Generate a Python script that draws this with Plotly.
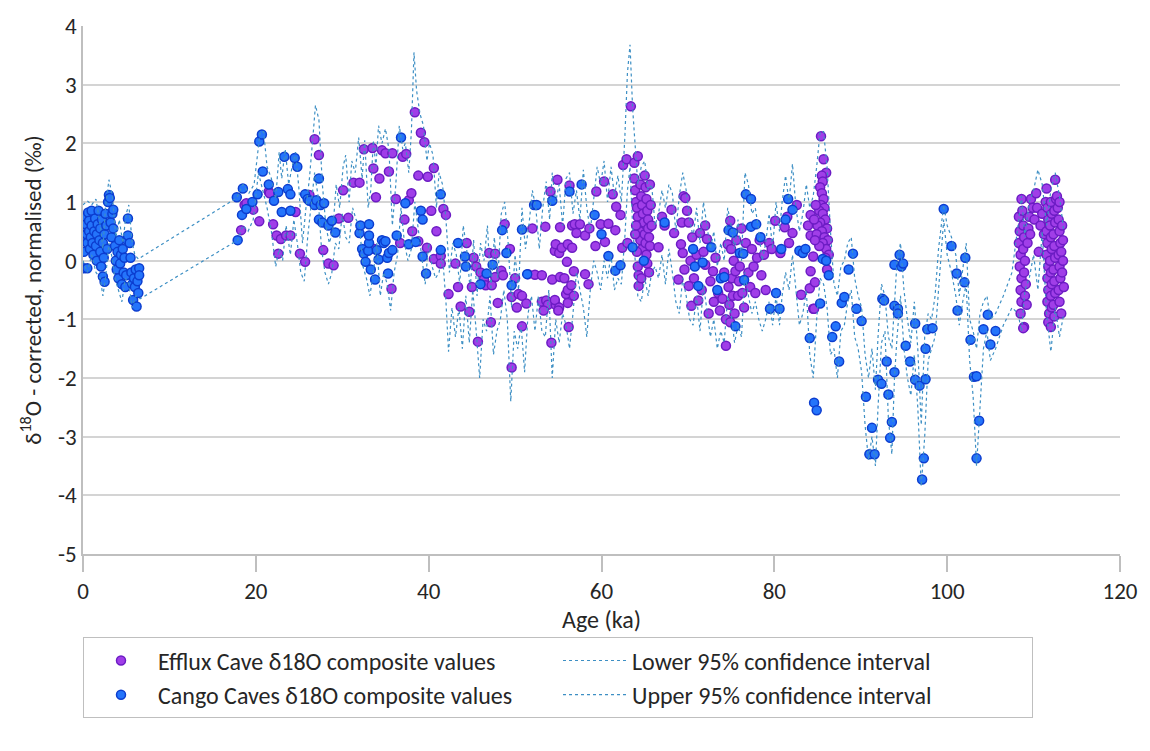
import plotly.graph_objects as go

# ---------------- data ----------------
cango_age = [
    0.1, 0.5, 0.1, 0.2, 0.2, 0.3, 0.3, 0.4, 0.5, 0.6, 0.7, 0.7, 0.8, 0.9, 1.0, 1.0, 1.1, 1.2, 1.3, 1.4,
    1.5, 1.6, 1.6, 1.7, 1.8, 1.9, 2.0, 2.0, 2.1, 2.2, 2.3, 2.3, 2.4, 2.5, 2.5, 2.6, 2.7, 2.8, 2.9, 3.0,
    3.1, 3.2, 3.3, 3.4, 3.5, 3.5, 3.7, 3.8, 3.9, 4.0, 4.1, 4.2, 4.3, 4.4, 4.5, 4.6, 4.7, 4.8, 4.9, 5.0,
    5.1, 5.2, 5.2, 5.4, 5.5, 5.6, 5.7, 5.8, 5.9, 6.0, 6.1, 6.2, 6.3, 6.4, 6.5, 6.5,
    17.8, 17.9, 18.4, 18.5, 18.9, 19.6, 20.2, 20.4, 20.7, 20.8, 21.5, 22.1, 22.6, 23.0, 23.3, 23.7, 24.0, 24.0,
    24.5, 24.8, 25.7, 26.0, 26.2, 26.8, 27.0, 27.3, 27.5, 27.9, 27.3, 27.7, 28.4, 28.8, 29.2,
    32.0, 32.1, 32.3, 32.5, 32.7, 33.0, 33.1, 33.1, 33.1, 33.3, 33.8, 34.0, 34.2, 34.6, 34.8, 35.0, 35.2,
    35.3, 35.4, 35.8, 36.3, 36.8, 37.3, 37.7, 38.5, 39.1, 39.3, 39.3, 39.7, 41.4, 41.4,
    43.4, 44.2, 44.3, 46.0, 46.7, 47.4, 48.5, 49.0, 49.6, 50.8, 51.4, 52.2, 52.5, 54.3, 56.3, 57.7, 59.2,
    60.0, 60.8, 61.6, 62.2, 63.6, 64.9, 67.3, 70.6, 70.8, 71.2, 71.7, 72.7, 73.4, 73.8, 74.2, 74.7, 75.2,
    75.5, 76.0, 76.4, 76.5, 76.7, 77.3, 77.3, 77.9, 78.4,
    79.5, 80.2, 80.6, 80.8, 81.3, 81.6, 82.1, 82.9, 83.3, 83.6, 84.1, 84.6, 84.9, 85.3, 85.6, 86.0, 86.3,
    86.7, 87.1, 87.5, 87.8, 88.1, 88.6, 89.1, 89.5, 90.1, 90.6, 91.0, 91.3, 91.6, 92.0, 92.4, 92.5, 92.7,
    93.0, 93.2, 93.4, 93.6, 93.9, 93.9, 93.9, 94.3, 94.3, 94.5, 94.7, 94.9, 95.2, 95.7, 96.3, 96.3, 96.8,
    97.1, 97.3, 97.5, 97.5, 97.7, 98.3, 99.6, 100.5, 101.1, 101.2, 102.0, 102.1, 102.7, 103.1, 103.4,
    103.4, 103.7, 104.2, 104.7, 105.0, 105.6,
]
cango_d18o = [
    -0.13, -0.13, 0.15, 0.35, 0.55, 0.62, 0.75, 0.45, 0.30, 0.82, 0.68, 0.50, 0.20, 0.40, 0.85, 0.60, 0.30, 0.10, 0.50, 0.72,
    0.25, 0.00, 0.45, 0.62, 0.85, 0.35, 0.15, 0.55, -0.10, 0.70, -0.27, 0.30, 0.05, -0.36, 0.45, 0.80, 0.60, 0.20, 1.00, 1.12,
    1.07, 0.65, 0.40, 0.80, 0.87, 0.55, 0.25, 0.00, -0.15, 0.15, -0.30, 0.35, -0.05, 0.10, -0.40, 0.20, -0.20, 0.05, -0.45, -0.25,
    0.35, 0.72, 0.43, 0.30, 0.05, -0.20, -0.40, -0.67, -0.30, -0.45, -0.15, -0.78, -0.35, -0.55, -0.13, -0.25,
    1.08, 0.35, 0.78, 1.23, 0.88, 1.00, 1.13, 2.03, 2.15, 1.52, 1.30, 1.02, 1.17, 0.83, 1.77, 1.22, 1.13, 0.85,
    1.75, 1.60, 1.13, 1.05, 1.02, 0.95, 1.03, 1.40, 0.95, 0.98, 0.70, 0.65, 0.60, 0.68, 0.48,
    0.47, 0.60, 0.20, 0.12, -0.02, 0.17, 0.30, 0.43, 0.62, -0.15, -0.32, 0.18, 0.02, 0.35, 0.30, 0.33, 0.05,
    -0.22, 0.13, 0.18, 0.43, 2.10, 0.98, 0.28, 0.32, 0.85, 0.70, 0.07, -0.22, 1.13, 0.18,
    0.30, 0.07, -0.10, -0.40, -0.22, -0.07, 0.52, 0.13, -0.42, 0.53, -0.23, 0.95, 0.95, 1.02, 1.18, 1.30, 0.78,
    0.45, 0.08, -0.17, -0.08, 0.23, 0.00, 0.65, 0.20, -0.10, -0.43, -0.03, 0.23, -0.50, -0.30, -0.28, 0.52, 0.48,
    -1.12, 0.13, 0.12, -0.33, 1.13, 1.05, 0.58, 0.62, 0.40,
    -0.82, -0.55, -0.82, 0.20, 0.70, 1.05, 0.87, 0.17, 0.13, 0.20, -1.32, -2.42, -2.55, -0.73, 0.03, 0.00, -0.25,
    -1.30, -1.12, -1.72, -0.72, -0.62, -0.15, 0.12, -0.82, -1.03, -2.32, -3.30, -2.85, -3.30, -2.03, -2.10, -0.65, -0.68,
    -1.72, -2.28, -3.02, -2.75, -1.90, -0.77, -0.07, -0.82, -0.90, 0.10, -0.10, -0.05, -1.45, -1.72, -1.07, -2.03, -2.13,
    -3.73, -3.37, -2.02, -1.50, -1.17, -1.15, 0.88, 0.25, -0.22, -0.85, -0.37, 0.05, -1.35, -1.98, -1.97,
    -3.37, -2.73, -1.17, -0.92, -1.43, -1.20,
]

efflux_age = [
    18.3, 18.7, 18.9, 19.7, 20.4, 21.5, 21.6, 22.0, 22.4, 22.6, 22.9, 23.5, 24.0, 24.6, 25.1, 25.7, 26.2, 26.8,
    27.3, 27.8, 28.4, 29.0, 29.6, 30.1, 30.7, 31.3, 32.0,
    32.5, 33.5, 33.6, 33.7, 33.9, 34.3, 34.6, 35.0, 35.4, 35.7, 35.8, 36.2, 36.7, 37.0, 37.4, 37.2, 37.7, 38.0,
    38.1, 38.4, 38.8, 38.8, 39.1, 39.5, 39.8, 39.9, 40.3, 40.6, 40.6, 40.9, 41.4, 41.4, 41.7, 42.0,
    42.3, 43.1, 43.4, 43.7, 44.4, 44.7, 45.0, 45.2, 45.5, 45.7, 46.0, 46.4, 46.6, 47.0, 47.2, 47.3, 47.7, 47.7,
    48.0, 48.4, 48.6, 48.8, 49.4, 49.6, 49.6, 50.0, 50.2, 50.4, 50.8, 50.8, 51.3, 51.5,
    52.0, 52.3, 53.1, 53.5, 54.1, 54.3, 54.6, 54.7, 54.9, 55.1, 55.2, 55.2, 55.4, 55.7, 56.0, 56.1, 56.3, 56.6,
    56.6, 56.8, 56.9, 57.1, 57.5, 58.1, 58.1, 58.5, 58.6, 59.3, 59.4, 59.9, 60.3, 60.4, 60.8, 61.3, 61.6, 61.7,
    62.2, 62.4, 62.5, 62.9, 63.0, 63.4, 63.8, 64.2, 64.3,
    53.1, 53.6, 53.8, 54.7, 54.6, 55.1, 55.9, 56.1, 56.1, 56.5, 56.8, 54.2, 56.2, 55.0, 53.3,
    63.8, 63.9, 64.0, 64.1, 64.2, 64.3, 64.4, 64.5, 64.5, 64.6, 64.7, 64.7, 64.8, 64.9, 65.0, 65.0, 65.1, 65.1,
    65.2, 65.2, 65.3, 65.3, 65.4, 65.4, 65.5, 65.5, 65.6, 65.6, 65.7, 65.8, 64.2, 64.3, 64.6, 64.1, 63.9, 64.0,
    66.6, 67.0, 67.3, 68.1, 68.4, 68.9, 69.2, 69.3, 69.4, 69.5, 69.6, 69.7, 69.9, 70.1, 70.1, 70.4, 70.3, 70.5,
    70.7, 71.0, 71.2, 71.4, 71.6, 71.8, 72.0, 72.0, 72.2, 72.4, 72.6, 72.9, 73.0, 73.2, 73.5, 73.7, 74.0, 74.2,
    74.4, 74.6, 74.7, 74.8, 74.9, 74.9, 75.0, 75.1, 75.2, 75.3, 75.4, 75.5, 75.6, 74.4, 75.8, 75.9, 76.0, 76.2,
    76.3, 76.5, 76.7, 77.0, 77.2, 77.4, 77.6, 77.8, 78.0, 78.3, 78.5, 78.8, 79.0, 79.4, 79.7, 80.1, 80.7, 81.2,
    81.5, 81.7, 82.1, 82.6, 83.1, 83.9, 84.1, 84.2, 84.2, 84.2, 84.5, 84.5, 84.6, 84.7,
    85.4, 85.7, 86.0, 85.5, 85.6, 85.3, 85.5, 85.7, 85.4, 85.8, 85.2, 85.6, 85.9, 85.3, 85.0, 86.1, 85.5, 84.9,
    85.8, 86.2, 85.6, 86.0, 85.2, 86.3, 85.9, 86.1, 84.8, 84.6, 84.7,
    108.3, 108.4, 108.3, 108.5, 108.4, 108.6, 108.5, 108.6, 108.5, 108.9, 108.6, 108.7, 108.8, 108.9, 108.8,
    109.0, 108.9, 109.1, 109.0, 109.2, 109.3, 109.4, 109.7, 109.5, 109.6, 109.9, 110.3, 110.1, 110.4, 110.6,
    110.8, 111.0, 111.2, 111.5, 111.4,
    111.6, 111.7, 111.5, 111.6, 111.5, 111.7, 111.6, 111.7, 111.6, 111.8, 111.7, 112.0, 112.1, 111.9, 112.0,
    112.1, 111.9, 112.0, 112.1, 112.0, 112.1, 112.0, 112.5, 112.6, 112.4, 112.5, 112.3, 112.4, 112.5, 112.3,
    112.4, 112.5, 112.3, 112.4, 112.8, 112.9, 113.0, 113.1, 112.9, 113.0, 113.1, 112.9, 113.0, 113.2, 113.3,
    113.4, 113.4, 113.3, 113.5, 113.2, 112.7, 113.0, 108.8,
]
efflux_d18o = [
    0.52, 0.95, 0.98, 0.87, 0.67, 1.18, 1.15, 0.62, 0.43, 0.12, 0.37, 0.43, 0.43, 0.83, 0.12, -0.02, 1.12, 2.07,
    1.80, 0.18, -0.05, -0.08, 0.72, 1.20, 0.73, 1.33, 1.33,
    1.90, 1.92, 1.57, 0.20, 1.08, 1.40, 1.88, 1.83, 1.52, -0.48, 1.83, 1.05, 0.30, 1.77, 1.82, 0.70, 1.03, 1.15,
    0.50, 2.53, 1.45, 0.33, 2.18, 2.02, 0.22, 1.43, 0.85, 1.58, 0.03, 0.50, 0.08, -0.05, 0.88, 0.78,
    -0.57, -0.05, -0.45, -0.78, 0.30, -0.87, -0.45, 0.05, -0.10, -1.38, -0.20, -0.32, -0.42, 0.13, -1.05, -0.42, 0.12, -0.28,
    -0.72, -0.17, -0.25, 0.62, 0.20, -0.62, -1.82, -0.30, -0.80, -0.57, -0.60, -1.12, -0.73, -0.23,
    0.55, -0.24, -0.25, 0.58, 1.18, -0.32, 0.17, 0.28, 1.38, 0.13, -0.28, 0.57, 0.22, -0.30, -0.02, 0.28, 1.28, 0.22,
    0.60, -0.18, 0.62, 0.47, 0.62, 0.43, -0.23, -0.40, 0.55, 0.25, 1.18, 0.62, 1.35, 0.32, 0.63, 1.13, 0.52, 0.92,
    0.78, 0.22, 1.63, 1.73, 0.30, 2.63, 1.67, 1.78, -0.43,
    -0.70, -0.68, -0.75, -0.75, -0.67, -0.80, -0.57, -0.50, -0.72, -0.42, -0.60, -1.40, -1.13, -0.85, -0.85,
    1.40, 1.20, 1.00, 0.90, 0.75, 0.60, 0.50, 0.35, 1.30, 1.10, 0.20, 0.95, 0.80, 0.65, 0.45, 1.45, 0.30, 1.25,
    0.10, 1.05, 0.85, -0.05, 0.70, 0.55, 0.40, -0.20, 0.25, 1.30, 0.95, 0.60, -0.10, -0.25, -0.30, 0.15, 0.45, 0.60,
    0.23, 0.75, 0.60, 0.87, 0.47, -0.32, 0.28, 0.65, 0.13, 1.10, -0.15, 1.07, 0.85, 0.65, -0.43, -0.77, 0.00, 0.40,
    -0.30, 0.10, -0.68, 0.47, -0.50, 0.15, 0.60, -0.07, 0.37, -0.90, -0.35, -0.18, -0.70, 0.05, -0.55, -0.85, -0.65, -0.20,
    -1.00, 0.28, -0.45, -0.75, 0.68, -1.05, 0.20, -0.30, -0.60, 0.00, -0.90, -0.18, 0.35, -1.45, -0.60, -0.35, -0.10, 0.55,
    -0.55, -0.80, 0.30, -0.20, -0.45, 0.20, -0.10, -0.55, 0.05, 0.35, -0.25, 0.10, -0.50, 0.30, 0.20, 0.68, 0.13, 0.57,
    0.75, 0.30, 0.47, 0.95, -0.58, 0.60, -0.47, 0.78, 0.43, -0.18, 0.07, -0.82, -0.82, -0.37,
    2.12, 1.73, 1.50, 1.45, 1.35, 1.25, 1.15, 1.05, 0.95, 0.90, 0.85, 0.80, 0.70, 0.65, 0.60, 0.55, 0.50, 0.45,
    0.40, 0.35, 0.30, 0.20, 0.25, 0.10, 0.05, -0.15, 0.95, 0.70, 0.35,
    0.75, 0.50, 0.30, 0.10, -0.10, -0.30, -0.50, -0.70, -0.90, -1.13, 1.05, 0.85, 0.60, 0.40, 0.20,
    0.00, -0.20, -0.40, -0.60, -0.75, 0.30, 0.55, 1.05, 0.75, 0.45, 0.90, 1.15, 0.70, 0.90, 0.15,
    0.60, 0.80, 0.45, 1.23, 1.00,
    0.90, 0.70, 0.50, 0.30, 0.10, -0.10, -0.30, -0.50, -0.70, -0.90, -1.05, 1.00, 0.80, 0.60, 0.40,
    0.20, 0.00, -0.20, -0.40, -0.60, -0.80, -1.13, 1.38, 1.05, 0.85, 0.65, 0.45, 0.25, 0.05, -0.15,
    -0.35, -0.55, -0.75, -0.95, 0.90, 0.70, 0.50, 0.30, 0.10, -0.10, -0.30, -0.50, -0.70, -0.90, 0.60,
    0.35, 0.00, -0.20, -0.45, 0.15, 1.10, 1.00, -1.15,
]

upper_age = [
    0, 0.5, 1, 1.5, 2, 2.3, 2.6, 3.0, 3.4, 3.8, 4.2, 4.6, 5.0, 5.3, 5.7, 6.0, 6.4,
    17.8, 18.5, 19.2, 19.8, 20.5, 20.9, 21.3, 21.8, 22.3, 22.7, 23.0, 23.4, 23.8, 24.2, 24.6, 25.0, 25.4, 25.8,
    26.2, 26.6, 26.9, 27.3, 27.7, 28.1, 28.5, 28.9, 29.3, 29.7, 30.1, 30.4, 30.8, 31.1, 31.5, 31.9, 32.3, 32.6,
    33.0, 33.3, 33.6, 33.9, 34.2, 34.6, 35.0, 35.4, 35.8, 36.2, 36.6, 37.0, 37.3, 37.7, 38.0, 38.3, 38.6, 39.0,
    39.4, 39.8, 40.1, 40.5, 40.9, 41.2, 41.6, 42.0, 42.4, 42.8, 43.2, 43.6, 44.0, 44.4, 44.8, 45.2, 45.6, 46.0,
    46.4, 46.8, 47.2, 47.6, 48.0, 48.4, 48.8, 49.2, 49.6, 50.0, 50.4, 50.8, 51.2, 51.6, 52.0, 52.4, 52.8, 53.2,
    53.6, 54.0, 54.3, 54.7, 55.1, 55.5, 55.9, 56.3, 56.7, 57.1, 57.5, 57.9, 58.3, 58.7, 59.1, 59.5, 59.9, 60.3,
    60.7, 61.1, 61.5, 61.9, 62.3, 62.7, 63.0, 63.3, 63.6, 63.9, 64.2, 64.6, 65.0, 65.4, 65.8, 66.2, 66.6, 67.0,
    67.4, 67.8, 68.2, 68.6, 69.0, 69.4, 69.8, 70.2, 70.6, 71.0, 71.4, 71.8, 72.2, 72.6, 73.0, 73.4, 73.8, 74.2,
    74.6, 75.0, 75.4, 75.8, 76.2, 76.6, 77.0, 77.4, 77.8, 78.2, 78.6, 79.0, 79.4, 79.8, 80.2, 80.6, 80.9, 81.3,
    81.7, 82.1, 82.5, 82.9, 83.3, 83.7, 84.1, 84.5, 84.9, 85.3, 85.7, 86.1, 86.5, 86.9, 87.3, 87.7, 88.1, 88.5,
    88.9, 89.3, 89.7, 90.1, 90.5, 90.9, 91.3, 91.7, 92.0, 92.4, 92.8, 93.2, 93.6, 93.9, 94.2, 94.6, 95.0, 95.4,
    95.8, 96.2, 96.6, 97.0, 97.4, 97.8, 98.2, 98.6, 99.0, 99.6, 100.0, 100.5, 101.0, 101.4, 101.8, 102.2, 102.6,
    103.0, 103.4, 103.8, 104.2, 104.6, 105.0, 105.6, 106.5, 107.5, 108.2, 108.6, 109.0, 109.5, 110.0, 110.5,
    111.0, 111.5, 112.0, 112.5, 113.0, 113.5,
]
upper_d18o = [
    0.95, 1.02, 0.95, 1.05, 0.60, 0.20, 0.90, 1.38, 1.10, 0.40, 0.70, 0.30, 0.80, 0.95, 0.30, 0.10, 0.03,
    1.07, 1.30, 1.15, 1.30, 2.20, 2.20, 1.60, 1.40, 1.05, 1.85, 1.40, 1.90, 1.30, 1.60, 1.85, 1.20, 0.30, 0.90,
    1.40, 2.10, 2.65, 2.40, 1.30, 0.60, 0.30, 0.50, 1.30, 0.90, 1.60, 1.80, 1.00, 1.70, 1.50, 2.10, 1.40, 2.05,
    0.90, 1.20, 2.05, 1.60, 2.30, 2.00, 2.25, 1.90, 0.60, 1.30, 2.30, 1.90, 2.00, 1.50, 2.20, 3.55, 2.90, 2.50,
    2.30, 1.70, 2.00, 1.80, 0.90, 1.50, 1.30, 0.70, -0.20, 0.30, 0.10, -0.40, 0.60, 0.20, -0.50, 0.35, -0.60, 0.30,
    0.00, 0.60, -0.50, 0.40, -0.30, 0.80, 1.00, 0.30, -0.80, 0.10, -0.50, 0.90, 0.20, 0.60, 1.20, 0.90, 0.20, 0.90,
    1.35, 0.70, 1.50, 1.00, 1.30, 0.60, 1.40, 1.50, 0.80, 1.20, 0.70, 1.55, 0.90, 0.50, 1.10, 1.60, 1.30, 1.70,
    1.00, 1.60, 1.10, 1.45, 1.00, 2.10, 3.20, 3.68, 2.60, 1.90, 1.30, 1.60, 1.70, 1.20, 1.30, 0.60, 0.80, 1.20,
    0.90, 1.30, 1.15, 0.50, 1.10, 1.50, 1.20, 0.70, 0.40, 0.90, 0.30, 1.00, 0.60, 0.20, 0.50, -0.10, 0.30, 0.00,
    0.90, 0.60, 0.20, 0.70, 0.00, 1.50, 1.30, 0.80, 0.90, 0.50, 0.00, 0.30, 0.80, 0.20, 1.00, 0.50, 1.00, 1.45,
    1.00, 1.65, 0.90, 0.50, 0.80, 1.30, 0.90, 1.10, 1.60, 2.20, 2.20, 1.60, 0.50, -0.40, -0.60, -0.10, 0.00, 0.30,
    0.40, -0.30, -0.60, -0.80, -1.60, -2.00, -1.50, -2.20, -1.30, -0.40, -0.60, -1.30, -1.50, -0.80, 0.00, 0.30, -0.50, -1.00,
    -1.40, -0.70, -1.50, -2.80, -1.30, -0.90, -1.00, -0.60, 0.20, 0.95, 0.60, 0.40, 0.10, -0.60, -0.10, 0.30, -1.00,
    -1.20, -1.50, -0.90, -0.70, -0.60, -1.00, -0.90, -0.60, -0.20, 0.60, 1.10, 0.40, 1.00, 1.20, 1.55,
    1.30, 0.60, 1.20, 1.50, 1.10, 0.50,
]

lower_age = [
    0, 0.5, 1.0, 1.5, 2.0, 2.3, 2.6, 3.0, 3.3, 3.7, 4.1, 4.5, 4.9, 5.3, 5.7, 6.1, 6.6,
    17.9, 18.5, 19.1, 19.7, 20.3, 20.8, 21.3, 21.8, 22.3, 22.7, 23.1, 23.5, 24.0, 24.4, 24.8, 25.2, 25.6, 26.0,
    26.4, 26.8, 27.2, 27.6, 28.0, 28.4, 28.8, 29.2, 29.6, 30.0, 30.4, 30.8, 31.2, 31.6, 32.0, 32.4, 32.8, 33.2,
    33.6, 34.0, 34.4, 34.8, 35.2, 35.6, 36.0, 36.4, 36.8, 37.2, 37.6, 38.0, 38.4, 38.8, 39.2, 39.6, 40.0, 40.4,
    40.8, 41.2, 41.6, 42.0, 42.3, 42.7, 43.1, 43.5, 43.9, 44.3, 44.7, 45.1, 45.5, 45.9, 46.3, 46.7, 47.1, 47.5,
    47.9, 48.3, 48.7, 49.1, 49.5, 49.9, 50.3, 50.7, 51.1, 51.5, 51.9, 52.3, 52.7, 53.1, 53.5, 53.9, 54.3, 54.7,
    55.1, 55.5, 55.9, 56.3, 56.7, 57.1, 57.5, 57.9, 58.3, 58.7, 59.1, 59.5, 59.9, 60.3, 60.7, 61.1, 61.5, 61.9,
    62.3, 62.7, 63.0, 63.3, 63.6, 63.9, 64.2, 64.6, 65.0, 65.4, 65.8, 66.2, 66.6, 67.0, 67.4, 67.8, 68.2, 68.6,
    69.0, 69.4, 69.8, 70.2, 70.6, 71.0, 71.4, 71.8, 72.2, 72.6, 73.0, 73.4, 73.8, 74.2, 74.6, 75.0, 75.4, 75.8,
    76.2, 76.6, 77.0, 77.4, 77.8, 78.2, 78.6, 79.0, 79.4, 79.8, 80.2, 80.6, 80.9, 81.3, 81.7, 82.1, 82.5, 82.9,
    83.3, 83.7, 84.1, 84.5, 84.9, 85.3, 85.7, 86.1, 86.5, 86.9, 87.3, 87.7, 88.1, 88.5, 88.9, 89.3, 89.7, 90.1,
    90.5, 90.9, 91.3, 91.7, 92.0, 92.4, 92.8, 93.2, 93.6, 93.9, 94.2, 94.6, 95.0, 95.4, 95.8, 96.2, 96.6, 97.0,
    97.4, 97.8, 98.2, 98.6, 99.0, 99.6, 100.0, 100.5, 101.0, 101.4, 101.8, 102.2, 102.6, 103.0, 103.4, 103.8,
    104.2, 104.6, 105.0, 105.6, 106.5, 107.5, 108.2, 108.6, 109.0, 109.5, 110.0, 110.5, 111.0, 111.5, 112.0,
    112.5, 113.0, 113.5,
]
lower_d18o = [
    0.00, -0.20, 0.10, -0.20, -0.30, -0.60, -0.30, 0.30, 0.10, -0.30, -0.50, -0.70, -0.30, -0.40, -0.80, -0.60, -0.65,
    0.35, 0.60, 0.50, 0.70, 1.50, 1.20, 0.90, 0.50, -0.10, 0.20, 0.00, 0.60, 0.10, 0.70, 0.30, -0.20, -0.35, 0.40,
    0.90, 1.50, 1.10, 0.20, -0.20, -0.40, -0.20, 0.30, 0.20, 0.80, 0.40, 0.30, 0.90, 0.70, 0.60, -0.10, -0.30, -0.60,
    -0.20, 0.30, -0.60, -0.20, -0.40, -0.85, -0.20, 0.10, 0.90, 0.30, 0.00, 0.20, 1.00, 0.50, 0.00, -0.40, 0.30, -0.10,
    -0.30, -0.20, 0.10, -0.70, -1.55, -0.80, -1.30, -0.80, -1.50, -0.60, -1.40, -0.50, -1.20, -2.00, -1.00, -1.20, -0.60, -1.60,
    -1.20, -1.00, -0.50, -1.00, -2.40, -1.20, -1.50, -1.10, -1.90, -0.90, -0.60, -1.20, -0.60, -1.20, -1.30, -0.50, -2.00, -1.00,
    -1.40, -0.90, -1.10, -1.50, -0.90, -0.20, -0.50, -0.80, -1.30, -0.50, 0.00, -0.20, -0.50, 0.00, -0.30, 0.10, -0.50, -0.30,
    -0.40, 0.40, 1.20, 1.60, 0.60, -0.10, -0.60, -0.70, -0.30, -0.60, -0.20, -0.10, -0.30, 0.10, -0.40, 0.20, -0.20, -0.70,
    -0.90, -0.30, -0.60, -1.00, -1.10, -0.60, -1.20, -0.40, -0.90, -1.30, -1.00, -1.50, -1.20, -1.40, -0.60, -0.90, -1.40, -1.10,
    -1.30, -0.20, -0.60, -0.90, -0.70, -1.00, -1.20, -1.00, -0.70, -1.10, -0.60, -1.10, -0.60, -0.20, -0.50, 0.10, -0.50, -1.10,
    -0.90, -0.50, -1.60, -2.00, -1.00, -0.30, -0.40, -0.80, -1.60, -1.50, -2.00, -1.20, -1.10, -0.70, -0.50, -1.30, -1.50, -1.90,
    -2.80, -3.40, -3.00, -3.50, -2.50, -1.40, -1.20, -2.70, -3.30, -2.00, -1.30, -0.60, -1.50, -2.00, -2.30, -1.60, -2.50, -3.85,
    -3.00, -1.70, -1.50, -1.30, -0.50, 0.70, 0.10, -0.20, -0.60, -1.10, -0.70, -0.40, -1.70, -2.30, -3.50, -2.50,
    -1.50, -1.20, -1.70, -1.50, -1.10, -0.80, -0.90, -1.20, -0.50, -0.30, 0.10, -0.50, 0.50, -0.90, -1.55,
    -0.80, -1.30, -0.90,
]

x_ticks = [0, 20, 40, 60, 80, 100, 120]
y_ticks = [-5, -4, -3, -2, -1, 0, 1, 2, 3, 4]

# ---------------- figure ----------------
FONT = "Carlito, Lato, 'Open Sans', sans-serif"
ci_color = "#3d8fc4"

fig = go.Figure()
fig.add_trace(go.Scatter(
    x=efflux_age, y=efflux_d18o, mode="markers",
    name="Efflux Cave δ18O composite values", legendrank=1,
    marker=dict(size=9, color="#a03ee8", line=dict(color="#6c1cc4", width=1.5)),
))
fig.add_trace(go.Scatter(
    x=cango_age, y=cango_d18o, mode="markers",
    name="Cango Caves δ18O composite values", legendrank=3,
    marker=dict(size=9, color="#2474fb", line=dict(color="#0c3dcf", width=1.5)),
))
fig.add_trace(go.Scatter(
    x=lower_age, y=lower_d18o, mode="lines",
    name="Lower 95% confidence interval", legendrank=2,
    line=dict(color=ci_color, width=1.2, dash="dot"),
))
fig.add_trace(go.Scatter(
    x=upper_age, y=upper_d18o, mode="lines",
    name="Upper 95% confidence interval", legendrank=4,
    line=dict(color=ci_color, width=1.2, dash="dot"),
))

fig.update_layout(
    width=1150, height=751,
    margin=dict(l=83, r=27, t=14, b=197),
    paper_bgcolor="white", plot_bgcolor="white",
    font=dict(family=FONT, size=23, color="#262626"),
    showlegend=True,
    legend=dict(
        orientation="h", x=0, xanchor="left", y=-0.158, yanchor="top",
        bordercolor="#bfbfbf", borderwidth=1, bgcolor="white",
        font=dict(family=FONT, size=24, color="#262626"),
        itemwidth=64,
        entrywidth=395, entrywidthmode="pixels",
        tracegroupgap=0,
    ),
    xaxis=dict(
        range=[0, 120], tickvals=x_ticks, ticktext=[str(v) for v in x_ticks],
        showgrid=False, zeroline=False,
        showline=True, linecolor="#bfbfbf", linewidth=1.5,
        ticks="outside", ticklen=16, tickcolor="#bfbfbf", tickwidth=1.5,
        tickfont=dict(size=23),
        title=dict(text="Age (ka)", font=dict(size=24), standoff=4),
    ),
    yaxis=dict(
        range=[-5, 4], tickvals=y_ticks, ticktext=[str(v) for v in y_ticks],
        showgrid=True, gridcolor="#d4d4d4", gridwidth=1.5,
        zeroline=False,
        showline=True, linecolor="#bfbfbf", linewidth=1.5,
        ticks="", tickfont=dict(size=23),
        title=dict(text="δ<sup>18</sup>O - corrected, normalised (‰)", font=dict(size=23), standoff=10),
    ),
)

fig.write_html("out.html")
